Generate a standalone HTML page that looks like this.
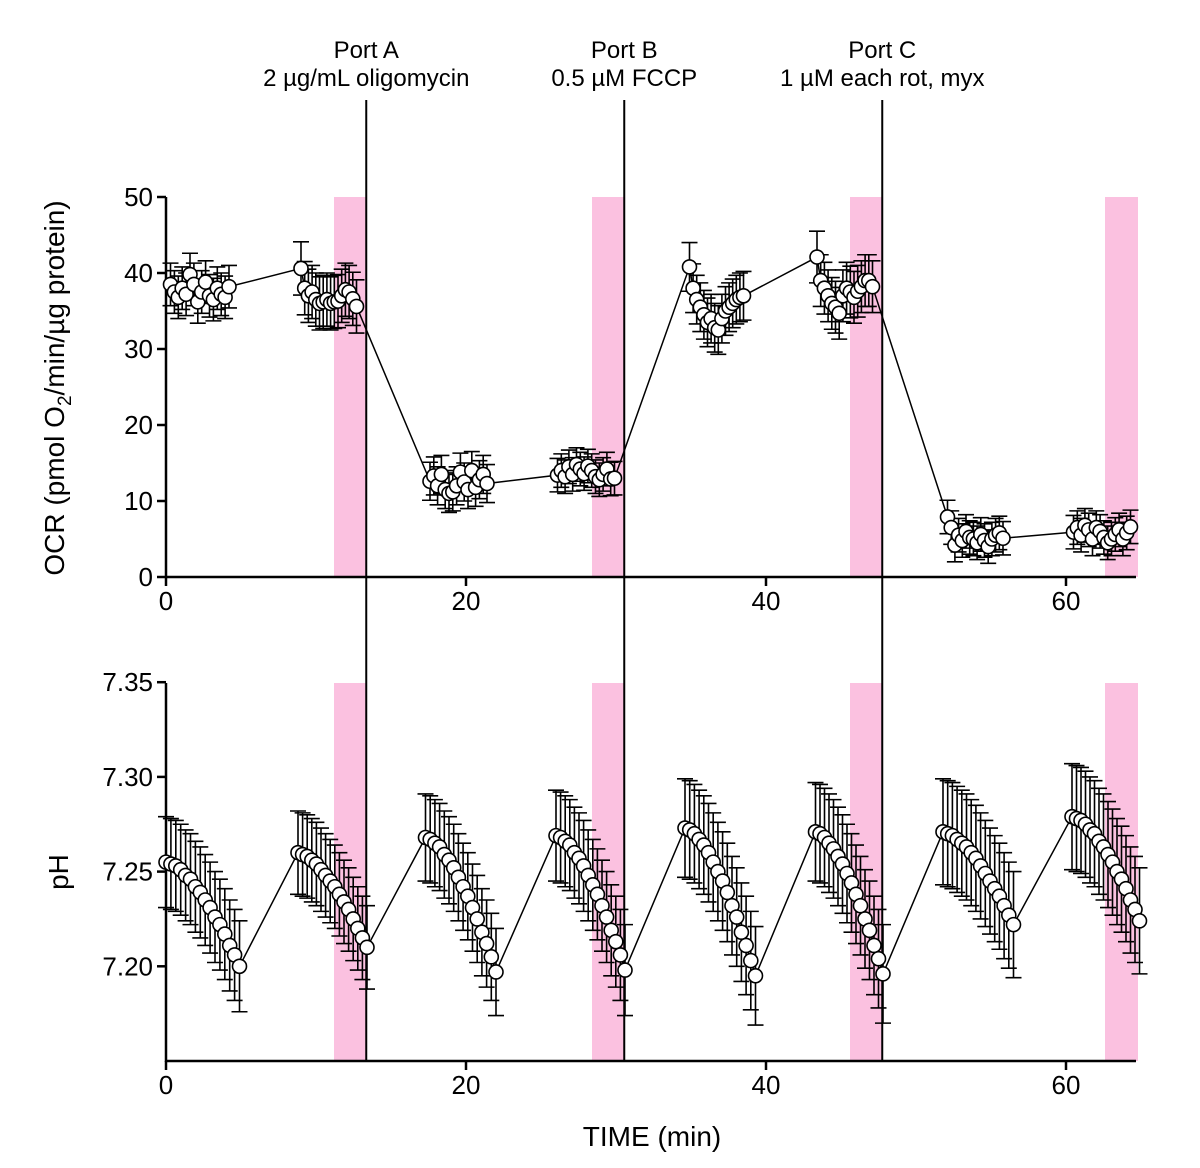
<!DOCTYPE html>
<html><head><meta charset="utf-8">
<style>
html,body{margin:0;padding:0;background:#fff;}
svg{display:block;font-family:"Liberation Sans",Arial,sans-serif;}
</style></head>
<body>
<svg id="chart" width="1200" height="1168" viewBox="0 0 1200 1168" xmlns="http://www.w3.org/2000/svg"></svg>
<script>
// ---- data ----
const portTimes = [13.35, 30.55, 47.75];
const portLine1 = ["Port A", "Port B", "Port C"];
const portLine2 = ["2 \u00b5g/mL oligomycin", "0.5 \u00b5M FCCP", "1 \u00b5M each rot, myx"];
const bandStarts = [11.2, 28.4, 45.6, 62.6];
const bandEnds = [13.35, 30.55, 47.75, 64.8];
const xTicks = [0, 20, 40, 60];
const ocrTicks = [0, 10, 20, 30, 40, 50];
const phTicks = [7.20, 7.25, 7.30, 7.35];
const phTickLabels = ["7.20", "7.25", "7.30", "7.35"];

const ocrStart = [0.3, 9.0, 17.6, 26.1, 34.9, 43.4, 52.1, 60.5];
const ocrEnd   = [4.2, 12.7, 21.4, 29.9, 38.5, 47.1, 55.8, 64.3];
const ocrSD    = [2.8, 3.5, 2.5, 2.2, 3.2, 3.4, 2.2, 2.2];
const ocrG1 = [38.5,37.5,36.8,38.0,37.2,39.8,38.5,36.2,37.5,38.8,37.0,36.5,38.0,37.2,36.8,38.2];
const ocrG2 = [40.6,38.0,37.0,37.5,36.5,36.0,36.2,36.5,36.0,36.2,36.3,37.0,37.8,37.5,36.6,35.6];
const ocrG3 = [12.6,13.3,12.0,13.5,11.5,11.0,11.2,12.0,13.8,12.5,11.5,14.0,11.8,12.8,13.5,12.3];
const ocrG4 = [13.4,14.0,13.2,14.5,13.5,14.8,14.2,13.6,14.6,14.0,13.2,12.8,13.5,14.2,12.9,13.0];
const ocrG5 = [40.8,38.0,36.5,35.5,34.5,33.5,34.0,32.8,32.5,34.0,35.0,35.5,36.0,36.5,36.8,37.0];
const ocrG6 = [42.1,39.0,38.0,37.0,36.0,35.5,34.7,37.0,38.0,37.5,36.8,37.6,38.2,39.0,39.0,38.2];
const ocrG7 = [7.9,6.5,4.2,5.5,4.8,6.0,5.2,5.0,4.5,5.6,4.8,4.0,5.0,5.5,5.8,5.1];
const ocrG8 = [5.9,6.5,5.5,6.8,6.2,5.0,6.5,6.0,5.2,4.5,5.0,5.6,6.2,5.0,5.8,6.6];
const ocrGroups = [ocrG1, ocrG2, ocrG3, ocrG4, ocrG5, ocrG6, ocrG7, ocrG8];

const phStart = [0.0, 8.8, 17.3, 26.0, 34.6, 43.3, 51.8, 60.4];
const phEnd   = [4.9, 13.4, 22.0, 30.6, 39.3, 47.8, 56.5, 64.9];
const phSD    = [0.024, 0.022, 0.023, 0.024, 0.026, 0.026, 0.028, 0.028];
const phC1 = [7.255,7.254,7.253,7.251,7.248,7.246,7.242,7.239,7.235,7.231,7.226,7.222,7.217,7.211,7.206,7.200];
const phC2 = [7.260,7.259,7.258,7.256,7.254,7.251,7.248,7.245,7.242,7.238,7.234,7.230,7.225,7.220,7.215,7.210];
const phC3 = [7.268,7.267,7.265,7.263,7.259,7.256,7.252,7.247,7.242,7.237,7.231,7.225,7.218,7.212,7.205,7.197];
const phC4 = [7.269,7.268,7.266,7.264,7.260,7.257,7.253,7.248,7.243,7.238,7.232,7.226,7.219,7.213,7.206,7.198];
const phC5 = [7.273,7.272,7.270,7.267,7.264,7.260,7.255,7.250,7.245,7.239,7.232,7.226,7.218,7.211,7.203,7.195];
const phC6 = [7.271,7.270,7.268,7.265,7.262,7.258,7.254,7.249,7.244,7.238,7.232,7.225,7.219,7.211,7.204,7.196];
const phC7 = [7.271,7.270,7.269,7.267,7.265,7.263,7.260,7.257,7.253,7.249,7.245,7.241,7.237,7.232,7.227,7.222];
const phC8 = [7.279,7.278,7.277,7.275,7.272,7.270,7.266,7.263,7.259,7.255,7.250,7.246,7.241,7.235,7.230,7.224];
const phCycles = [phC1, phC2, phC3, phC4, phC5, phC6, phC7, phC8];

// ---- scales ----
const X0 = 166, XPX = 15;
function xs(t){ return X0 + t * XPX; }
const OCR_Y0 = 577, OCR_PX = 7.6;
function yOcr(v){ return OCR_Y0 - v * OCR_PX; }
const PH_Y0 = 1061, PH_BASE = 7.15, PH_PX = 1894;
function yPh(v){ return PH_Y0 - (v - PH_BASE) * PH_PX; }
const X_END = 1136;

const svg = document.getElementById('chart');
const NS = 'http://www.w3.org/2000/svg';
function mk(tag, attrs, parent){
  const e = document.createElementNS(NS, tag);
  for (const k in attrs) e.setAttribute(k, attrs[k]);
  (parent || svg).appendChild(e);
  return e;
}
function txt(x, y, s, size, anchor, parent){
  const t = mk('text', {x:x, y:y, 'font-size':size, 'text-anchor':anchor || 'middle', fill:'#000'}, parent);
  t.textContent = s;
  return t;
}

// bands
bandStarts.forEach((b, i) => {
  const r1 = mk('rect', {x:xs(b), y:197, width:xs(bandEnds[i]) - xs(b), height:380, fill:'#fbc1e0'});
  
  
  const r2 = mk('rect', {x:xs(b), y:683, width:xs(bandEnds[i]) - xs(b), height:378, fill:'#fbc1e0'});
  
  
});

// port lines & labels
portTimes.forEach((p, i) => {
  const l = mk('line', {x1:xs(p), x2:xs(p), y1:100, y2:1061, stroke:'#000', 'stroke-width':2});
  
  
  const t1 = txt(xs(p), 58, portLine1[i], 24);
  
  
  const t2 = txt(xs(p), 86, portLine2[i], 24);
  
  
});

// axes
function axes(yTop, yBot, ticksV, labels, yfn, name){
  const g = mk('g', {});
  
  
  mk('line', {x1:X0, x2:X0, y1:yTop, y2:yBot + 1, stroke:'#000', 'stroke-width':2.5}, g);
  mk('line', {x1:X0 - 1, x2:X_END, y1:yBot, y2:yBot, stroke:'#000', 'stroke-width':2.5}, g);
  ticksV.forEach((v, i) => {
    const y = yfn(v);
    mk('line', {x1:X0 - 9, x2:X0, y1:y, y2:y, stroke:'#000', 'stroke-width':2.5}, g);
    const t = txt(X0 - 13, y + 9, labels[i], 26, 'end', g);
    
    
  });
  xTicks.forEach(v => {
    mk('line', {x1:xs(v), x2:xs(v), y1:yBot, y2:yBot + 9, stroke:'#000', 'stroke-width':2.5}, g);
    const t = txt(xs(v), yBot + 33, String(v), 26, 'middle', g);
    
    
  });
}
axes(197, 577, ocrTicks, ocrTicks.map(String), yOcr, 'ocr-axes');
axes(683, 1061, phTicks, phTickLabels, yPh, 'ph-axes');

// titles
const yt1 = txt(0, 0, '', 28);
yt1.setAttribute('transform', 'translate(64,388) rotate(-90)');
yt1.innerHTML = 'OCR (pmol O<tspan font-size="19" dy="7">2</tspan><tspan dy="-7">/min/\u00b5g protein)</tspan>';


const yt2 = txt(0, 0, 'pH', 28);
yt2.setAttribute('transform', 'translate(68,872) rotate(-90)');


const xt = txt(652, 1146, 'TIME (min)', 28);



// series
function series(groups, starts, ends, sds, yfn, name){
  const g = mk('g', {});
  
  
  const pts = [];
  groups.forEach((arr, gi) => {
    const n = arr.length;
    arr.forEach((v, i) => {
      const t = starts[gi] + (ends[gi] - starts[gi]) * i / (n - 1);
      pts.push([xs(t), yfn(v), yfn(v + sds[gi]), yfn(v - sds[gi])]);
    });
  });
  mk('polyline', {points: pts.map(p => p[0] + ',' + p[1]).join(' '), fill:'none', stroke:'#000', 'stroke-width':1.5}, g);
  pts.forEach(p => {
    const eb = mk('path', {d:'M' + p[0] + ',' + p[2] + 'V' + p[3] + 'M' + (p[0] - 8) + ',' + p[2] + 'h16M' + (p[0] - 8) + ',' + p[3] + 'h16', stroke:'#000', 'stroke-width':1.6, fill:'none'}, g);
    
    
  });
  pts.forEach(p => {
    const c = mk('circle', {cx:p[0], cy:p[1], r:7, fill:'#fff', stroke:'#000', 'stroke-width':1.6}, g);
    
    
  });
}
series(ocrGroups, ocrStart, ocrEnd, ocrSD, yOcr, 'ocr-series');
series(phCycles, phStart, phEnd, phSD, yPh, 'ph-series');
</script>
</body></html>
